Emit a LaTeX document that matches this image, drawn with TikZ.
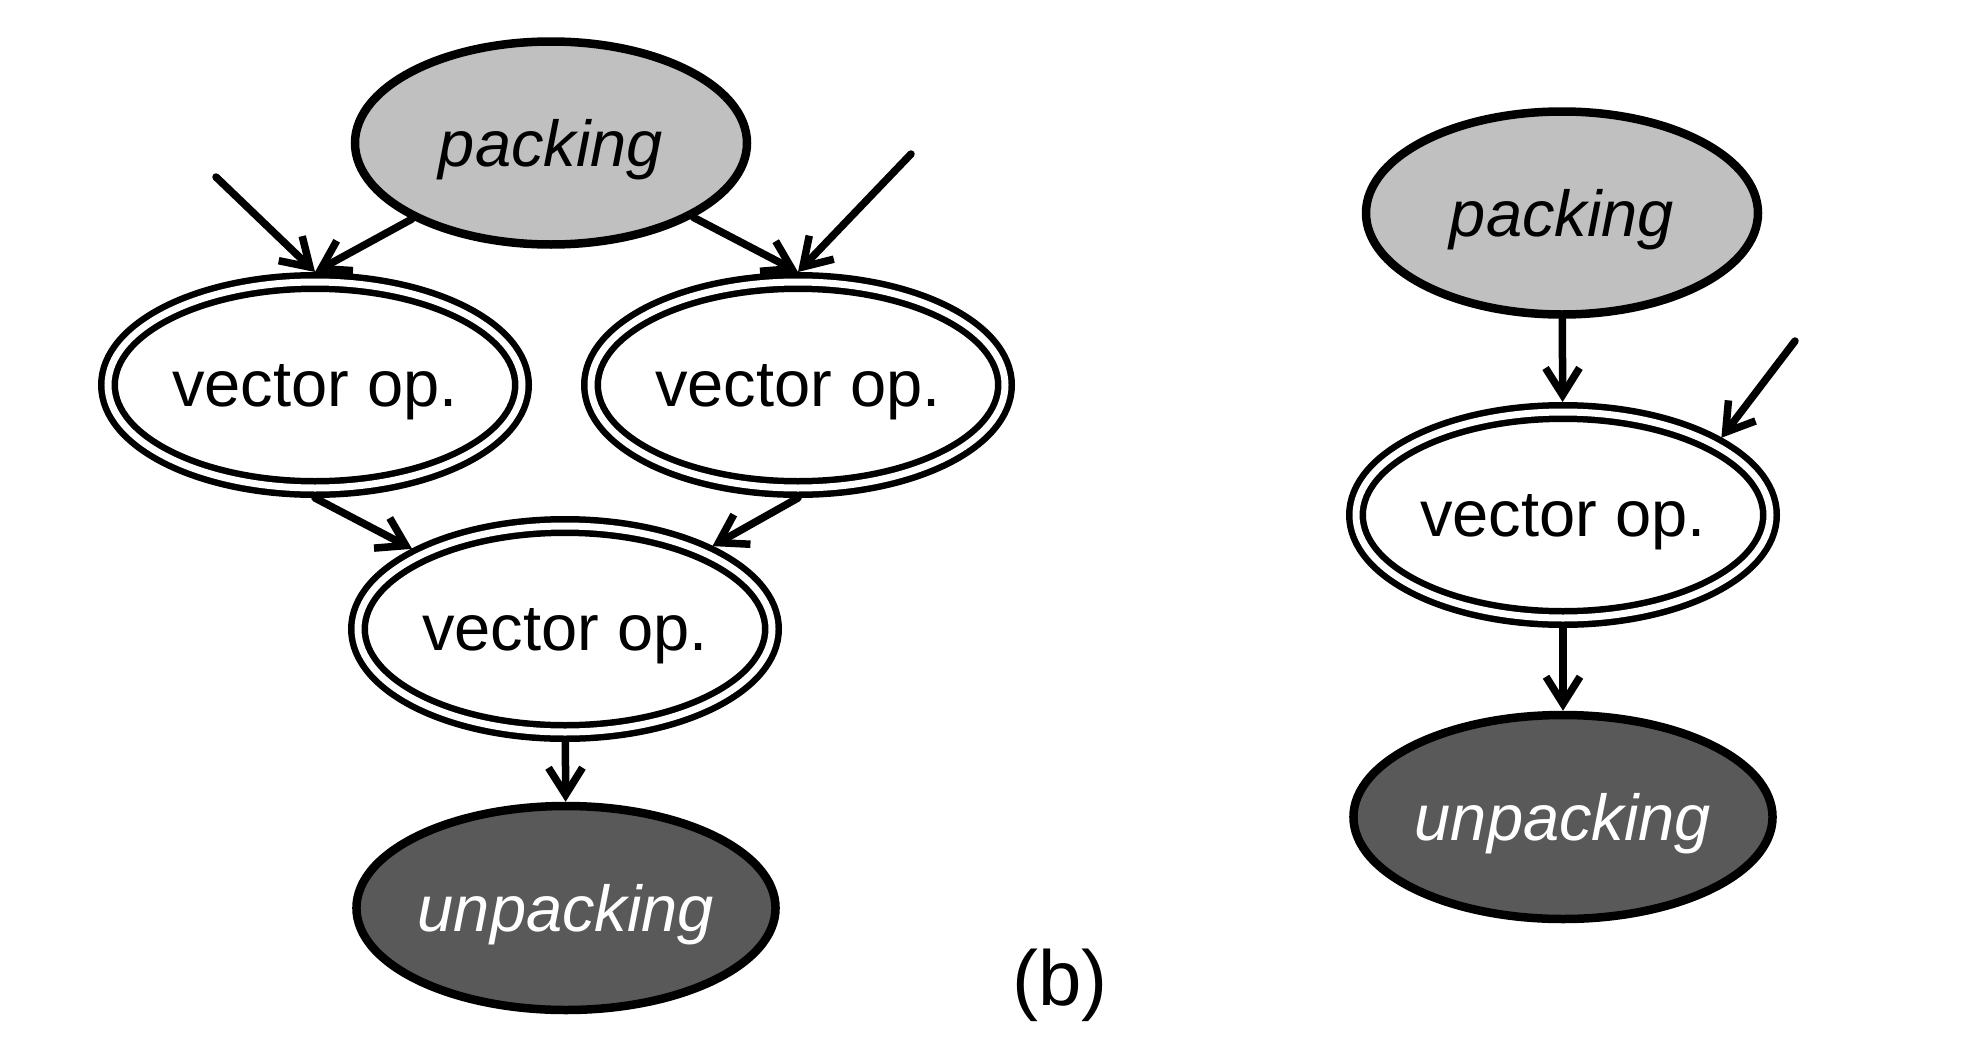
\documentclass[tikz,border=0pt]{standalone}
\usepackage{fontspec}
\setmainfont{Liberation Sans}
\usetikzlibrary{arrows.meta,shapes.geometric}
\definecolor{packgray}{RGB}{192,192,192}
\definecolor{unpackgray}{RGB}{89,89,89}
\tikzset{
  packnode/.style={ellipse, draw, line width=8.5pt, fill=packgray, minimum width=392pt, minimum height=203pt, inner sep=0pt, outer sep=4.25pt, text depth=0pt, font=\fontsize{65}{78}\selectfont\itshape},
  unpacknode/.style={ellipse, draw, line width=8.5pt, fill=unpackgray, text=white, minimum width=413pt, minimum height=204pt, inner sep=0pt, outer sep=4.25pt, text depth=0pt, font=\fontsize{65}{78}\selectfont\itshape},
  vecnode/.style={ellipse, draw, line width=6.5pt, double=white, double distance=7pt, minimum width=414pt, minimum height=206pt, inner sep=0pt, outer sep=10pt, text depth=0pt, font=\fontsize{65}{78}\selectfont},
  flow/.style={-{Straight Barb[length=27pt,width=34pt]}, line width=7.5pt, line cap=round, line join=round},
  caption/.style={font=\fontsize{78}{94}\selectfont}
}
\begin{document}
\begin{tikzpicture}[x=1pt,y=-1pt]
  \path[use as bounding box] (0,0) rectangle (1968,1052);
  % left graph
  \node[packnode] (pL) at (551,143) {packing};
  \node[vecnode] (vL) at (315,385) {vector op.};
  \node[vecnode] (vR1) at (798,385) {vector op.};
  \node[vecnode] (vB) at (565,629) {vector op.};
  \node[unpacknode] (uL) at (566,908) {unpacking};
  \coordinate (fL) at (216,177);
  \coordinate (fR) at (911,154);
  % right graph
  \node[packnode] (pR) at (1562,213) {packing};
  \node[vecnode] (vR) at (1563,515) {vector op.};
  \node[unpacknode] (uR) at (1563,817) {unpacking};
  \coordinate (f2) at (1795,341);
  % caption
  \node[caption] (cap) at (1060,985) {(b)};
  % connectors
  \draw[flow] (fL) -- (vL.north);
  \draw[flow] (pL) -- (vL.north);
  \draw[flow] (pL) -- (vR1.north);
  \draw[flow] (fR) -- (vR1.north);
  \draw[flow] (vL.south) -- (vB);
  \draw[flow] (vR1.south) -- (vB);
  \draw[flow] (vB) -- (uL);
  \draw[flow] (pR) -- (vR);
  \draw[flow] (f2) -- (vR.26);
  \draw[flow] (vR) -- (uR);
\end{tikzpicture}
\end{document}
